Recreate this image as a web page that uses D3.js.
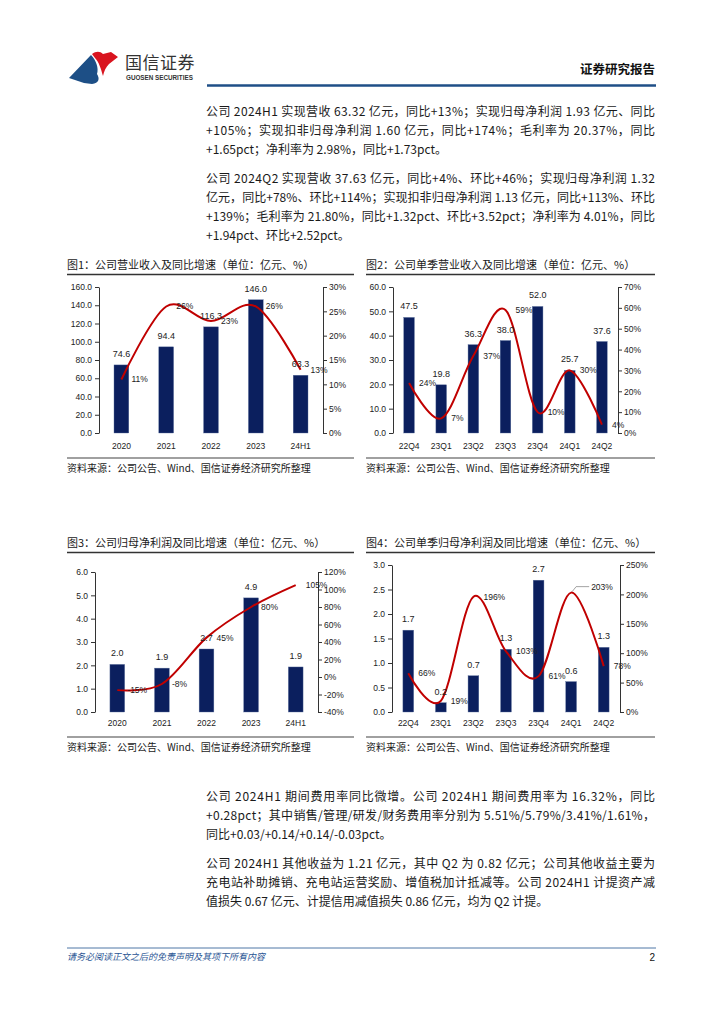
<!DOCTYPE html>
<html>
<head>
<meta charset="utf-8">
<script src="https://cdn.jsdelivr.net/npm/d3@7/dist/d3.min.js"></script>
<style>
  body { margin: 0; background: #fff; }
  svg text { font-family: "Noto Sans CJK SC", sans-serif; }
  .num { font-family: "Liberation Sans", Arial, sans-serif !important; }
</style>
</head>
<body>
<svg id="page"></svg>
<script>
// ---- data ----
const years = ["2020", "2021", "2022", "2023", "24H1"];
const quarters = ["22Q4", "23Q1", "23Q2", "23Q3", "23Q4", "24Q1", "24Q2"];

const revenue = [74.6, 94.4, 116.3, 146.0, 63.3];
const revenueYoy = [11, 26, 23, 26, 13];
const qRevenue = [47.5, 19.8, 36.3, 38.0, 52.0, 25.7, 37.6];
const qRevenueYoy = [24, 7, 37, 59, 10, 30, 4];
const profit = [2.04, 1.88, 2.70, 4.89, 1.93];
const profitYoy = [-15, -8, 45, 80, 105];
const qProfit = [1.67, 0.19, 0.74, 1.28, 2.69, 0.62, 1.32];
const qProfitYoy = [66, 19, 196, 103, 61, 203, 78];

const revTicks = [0, 20, 40, 60, 80, 100, 120, 140, 160];
const revPctTicks = [0, 5, 10, 15, 20, 25, 30];
const qRevTicks = [0, 10, 20, 30, 40, 50, 60];
const qRevPctTicks = [0, 10, 20, 30, 40, 50, 60, 70];
const profitTicks = [0, 1, 2, 3, 4, 5, 6];
const profitPctTicks = [-40, -20, 0, 20, 40, 60, 80, 100, 120];
const qProfitTicks = [0, 0.5, 1, 1.5, 2, 2.5, 3];
const qProfitPctTicks = [0, 50, 100, 150, 200, 250];

const para1 = [
  "公司 2024H1 实现营收 63.32 亿元，同比+13%；实现归母净利润 1.93 亿元、同比",
  "+105%；实现扣非归母净利润 1.60 亿元，同比+174%；毛利率为 20.37%，同比",
  "+1.65pct；净利率为 2.98%，同比+1.73pct。"
];
const para2 = [
  "公司 2024Q2 实现营收 37.63 亿元，同比+4%、环比+46%；实现归母净利润 1.32",
  "亿元，同比+78%、环比+114%；实现扣非归母净利润 1.13 亿元，同比+113%、环比",
  "+139%；毛利率为 21.80%，同比+1.32pct、环比+3.52pct；净利率为 4.01%，同比",
  "+1.94pct、环比+2.52pct。"
];
const para3 = [
  "公司 2024H1 期间费用率同比微增。公司 2024H1 期间费用率为 16.32%，同比",
  "+0.28pct；其中销售/管理/研发/财务费用率分别为 5.51%/5.79%/3.41%/1.61%，",
  "同比+0.03/+0.14/+0.14/-0.03pct。"
];
const para4 = [
  "公司 2024H1 其他收益为 1.21 亿元，其中 Q2 为 0.82 亿元；公司其他收益主要为",
  "充电站补助摊销、充电站运营奖励、增值税加计抵减等。公司 2024H1 计提资产减",
  "值损失 0.67 亿元、计提信用减值损失 0.86 亿元，均为 Q2 计提。"
];

const navy = "#0b1f5e", red = "#c00000";

const svg = d3.select("#page").attr("width", 724).attr("height", 1024);
svg.append("rect").attr("width", 724).attr("height", 1024).attr("fill", "#fff");

// ---- header ----
svg.append("path")
  .attr("d", "M69,78 L91,55 C96,60 99,68 97,74 C100,79 99,83 92,84 L84,83 Z")
  .attr("fill", "#1d4f86");
svg.append("path")
  .attr("d", "M92,54 C96,51 100,51 103,54 L111,52 L118,57 L109,64 C106,67 104,71 103,76 C101,69 99,62 95,58 Z")
  .attr("fill", "#d9141f");
svg.append("text").attr("x", 125).attr("y", 69).attr("font-size", 17)
  .attr("fill", "#333").attr("letter-spacing", 0.5).text("国信证券");
svg.append("text").attr("class", "num").attr("x", 126).attr("y", 80).attr("font-size", 6.3)
  .attr("font-weight", "bold").attr("fill", "#333").text("GUOSEN SECURITIES");
svg.append("text").attr("x", 655).attr("y", 74).attr("text-anchor", "end")
  .attr("font-size", 12.5).attr("font-weight", "bold").attr("fill", "#111").text("证券研究报告");
svg.append("line").attr("x1", 207).attr("x2", 656).attr("y1", 85.5).attr("y2", 85.5)
  .attr("stroke", "#1f4f87").attr("stroke-width", 2.5);

// ---- body text ----
function paragraph(lines, y0, step) {
  lines.forEach((t, i) => {
    const tx = svg.append("text").attr("x", 206).attr("y", y0 + i * step)
      .attr("font-size", 12).attr("fill", "#1a1a1a").text(t);
    if (i < lines.length - 1) tx.attr("textLength", 449).attr("lengthAdjust", "spacing");
  });
}
paragraph(para1, 116, 19);
paragraph(para2, 183, 19);
paragraph(para3, 801, 19);
paragraph(para4, 868, 19);

// ---- charts ----
function drawChart(o) {
  const g = svg.append("g");
  g.append("text").attr("x", o.x0).attr("y", o.titleY + 4).attr("font-size", 11)
    .attr("fill", "#1a1a1a").text(o.title);
  g.append("line").attr("x1", o.x0).attr("x2", o.x1).attr("y1", o.titleY + 9.5).attr("y2", o.titleY + 9.5)
    .attr("stroke", "#333").attr("stroke-width", 1.3);

  const x = d3.scaleBand().domain(o.cats).range([o.left, o.right])
    .paddingInner(0.67).paddingOuter(0.335);
  const yL = d3.scaleLinear().domain(d3.extent(o.leftTicks)).range([o.bottom, o.top]);
  const yR = d3.scaleLinear().domain(d3.extent(o.rightTicks)).range([o.bottom, o.top]);
  const cx = d => x(d) + x.bandwidth() / 2;

  g.selectAll(".bar").data(o.bars).join("rect")
    .attr("x", (d, i) => x(o.cats[i]))
    .attr("y", d => yL(d))
    .attr("width", x.bandwidth())
    .attr("height", d => yL(0) - yL(d))
    .attr("fill", navy)
    .attr("stroke", "#5a6f9c").attr("stroke-width", 0.4);

  const axL = g.append("g").attr("transform", `translate(${o.left},0)`)
    .call(d3.axisLeft(yL).tickValues(o.leftTicks).tickSize(4).tickSizeOuter(0).tickPadding(3)
      .tickFormat(d3.format(".1f")));
  const axR = g.append("g").attr("transform", `translate(${o.right},0)`)
    .call(d3.axisRight(yR).tickValues(o.rightTicks).tickSize(4).tickSizeOuter(0).tickPadding(2)
      .tickFormat(d => d + "%"));
  const axB = g.append("g").attr("transform", `translate(0,${o.bottom})`)
    .call(d3.axisBottom(x).tickSize(0).tickPadding(o.xPad));
  axB.select(".domain").remove();
  [axL, axR, axB].forEach(a => {
    a.select(".domain").attr("stroke", "#333");
    a.selectAll(".tick line").attr("stroke", "#333");
    a.selectAll("text").attr("class", "num").attr("font-size", 8.5).attr("fill", "#222");
  });

  const line = d3.line()
    .x((d, i) => cx(o.cats[i]))
    .y(d => yR(d))
    .curve(d3.curveCatmullRom.alpha(0));
  g.append("path").datum(o.yoy).attr("d", line)
    .attr("fill", "none").attr("stroke", red).attr("stroke-width", 2);

  g.selectAll(".vlab").data(o.bars).join("text")
    .attr("class", "num")
    .attr("x", (d, i) => cx(o.cats[i]))
    .attr("y", d => yL(d) - 8)
    .attr("text-anchor", "middle").attr("font-size", 9).attr("fill", "#222")
    .text(d => d.toFixed(1));

  g.selectAll(".plab").data(o.yoy).join("text")
    .attr("class", "num")
    .attr("x", (d, i) => cx(o.cats[i]) + 10 + (i === o.leader ? 10 : 0))
    .attr("y", (d, i) => yR(d) + 3 - (i === o.leader ? 6 : 0))
    .attr("font-size", 8.5).attr("fill", "#222")
    .text(d => d + "%");
  if (o.leader != null) {
    const px = cx(o.cats[o.leader]), py = yR(o.yoy[o.leader]);
    g.append("path").attr("d", `M${px + 1},${py - 1}L${px + 5},${py - 6}L${px + 18},${py - 6}`)
      .attr("fill", "none").attr("stroke", "#666").attr("stroke-width", 0.6);
  }

  g.append("line").attr("x1", o.x0).attr("x2", o.x1).attr("y1", o.sepY).attr("y2", o.sepY)
    .attr("stroke", "#808080").attr("stroke-width", 1.5);
  g.append("text").attr("x", o.x0).attr("y", o.sepY + 13.5).attr("font-size", 10)
    .attr("fill", "#1a1a1a").text("资料来源：公司公告、Wind、国信证券经济研究所整理");
}

drawChart({
  title: "图1：公司营业收入及同比增速（单位：亿元、%）",
  cats: years, bars: revenue, yoy: revenueYoy,
  leftTicks: revTicks, rightTicks: revPctTicks,
  x0: 67, x1: 354, titleY: 265, sepY: 458,
  left: 99, right: 323, top: 287, bottom: 433, xPad: 10
});
drawChart({
  title: "图2：公司单季营业收入及同比增速（单位：亿元、%）",
  cats: quarters, bars: qRevenue, yoy: qRevenueYoy,
  leftTicks: qRevTicks, rightTicks: qRevPctTicks,
  x0: 366, x1: 655, titleY: 265, sepY: 458,
  left: 393, right: 618, top: 287, bottom: 433, xPad: 10
});
drawChart({
  title: "图3：公司归母净利润及同比增速（单位：亿元、%）",
  cats: years, bars: profit, yoy: profitYoy,
  leftTicks: profitTicks, rightTicks: profitPctTicks,
  x0: 67, x1: 354, titleY: 543, sepY: 737,
  left: 95, right: 318, top: 572, bottom: 712, xPad: 8
});
drawChart({
  title: "图4：公司单季归母净利润及同比增速（单位：亿元、%）",
  cats: quarters, bars: qProfit, yoy: qProfitYoy,
  leftTicks: qProfitTicks, rightTicks: qProfitPctTicks,
  x0: 366, x1: 655, titleY: 543, sepY: 737,
  left: 392, right: 620, top: 565, bottom: 712, xPad: 8, leader: 5
});

// ---- footer ----
svg.append("line").attr("x1", 67).attr("x2", 656).attr("y1", 948).attr("y2", 948)
  .attr("stroke", "#4f77a6").attr("stroke-width", 1);
svg.append("text").attr("x", 67).attr("y", 960).attr("font-size", 9)
  .attr("font-style", "italic").attr("fill", "#2a5594").text("请务必阅读正文之后的免责声明及其项下所有内容");
svg.append("text").attr("class", "num").attr("x", 655).attr("y", 961).attr("text-anchor", "end")
  .attr("font-size", 10).attr("fill", "#111").text("2");
</script>
</body>
</html>
